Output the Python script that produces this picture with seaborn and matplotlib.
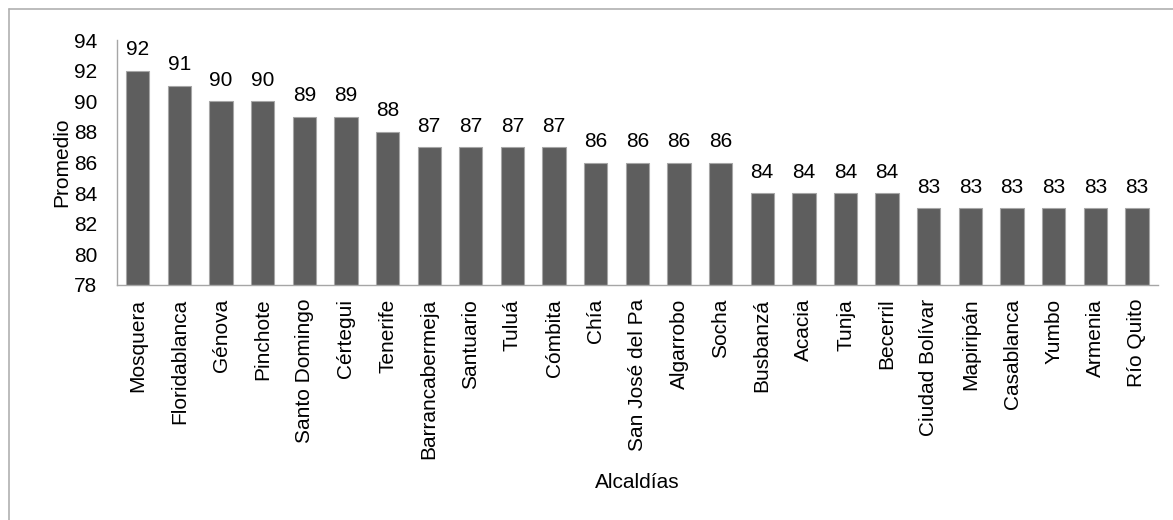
import matplotlib
matplotlib.use("Agg")
import matplotlib.pyplot as plt
import seaborn as sns
import pandas as pd
from matplotlib.lines import Line2D

alcaldias = ["Mosquera", "Floridablanca", "Génova", "Pinchote", "Santo Domingo",
             "Cértegui", "Tenerife", "Barrancabermeja", "Santuario", "Tuluá",
             "Cómbita", "Chía", "San José del Pa", "Algarrobo", "Socha",
             "Busbanzá", "Acacia", "Tunja", "Becerril", "Ciudad Bolívar",
             "Mapiripán", "Casablanca", "Yumbo", "Armenia", "Río Quito"]
promedio = [92, 91, 90, 90, 89, 89, 88, 87, 87, 87, 87, 86, 86, 86, 86,
            84, 84, 84, 84, 83, 83, 83, 83, 83, 83]
y_ticks = [78, 80, 82, 84, 86, 88, 90, 92, 94]

sns.set_theme(style="white")
plt.rcParams['font.family'] = ['Liberation Sans', 'DejaVu Sans']

FS = 15

df = pd.DataFrame({"Alcaldías": alcaldias, "Promedio": promedio})

fig = plt.figure(figsize=(11.73, 5.2), dpi=100)
ax = fig.add_axes([0.0997, 0.452, 0.8873, 0.471])

sns.barplot(data=df, x="Alcaldías", y="Promedio", color="#5e5e5e", saturation=1,
            width=0.56, edgecolor="#a6a6a6", linewidth=0.8, ax=ax)

ax.set_ylim(78, 94)
ax.set_yticks(y_ticks)
ax.set_xlim(-0.5, len(alcaldias) - 0.5)

for i, v in enumerate(promedio):
    ax.text(i, v + 0.75, f"{v}", ha="center", va="bottom", fontsize=FS, color="black")

ax.tick_params(axis="x", labelrotation=90, labelsize=FS, pad=10, length=0, colors="black")
ax.tick_params(axis="y", labelsize=FS, pad=14, length=0, colors="black")

ax.set_xlabel("Alcaldías", fontsize=FS, color="black", labelpad=10)
ax.set_ylabel("Promedio", fontsize=FS, color="black", labelpad=2)

for s in ["top", "right"]:
    ax.spines[s].set_visible(False)
for s in ["left", "bottom"]:
    ax.spines[s].set_color("#a6a6a6")
    ax.spines[s].set_linewidth(1.0)

# outer chart frame (left and top edges visible)
fig.add_artist(Line2D([9/1173, 9/1173], [0, 1 - 9/520], transform=fig.transFigure,
                      color="#b0b0b0", linewidth=1.2))
fig.add_artist(Line2D([9/1173, 1], [1 - 9/520, 1 - 9/520], transform=fig.transFigure,
                      color="#b0b0b0", linewidth=1.2))

fig.savefig("out.png", dpi=100)
